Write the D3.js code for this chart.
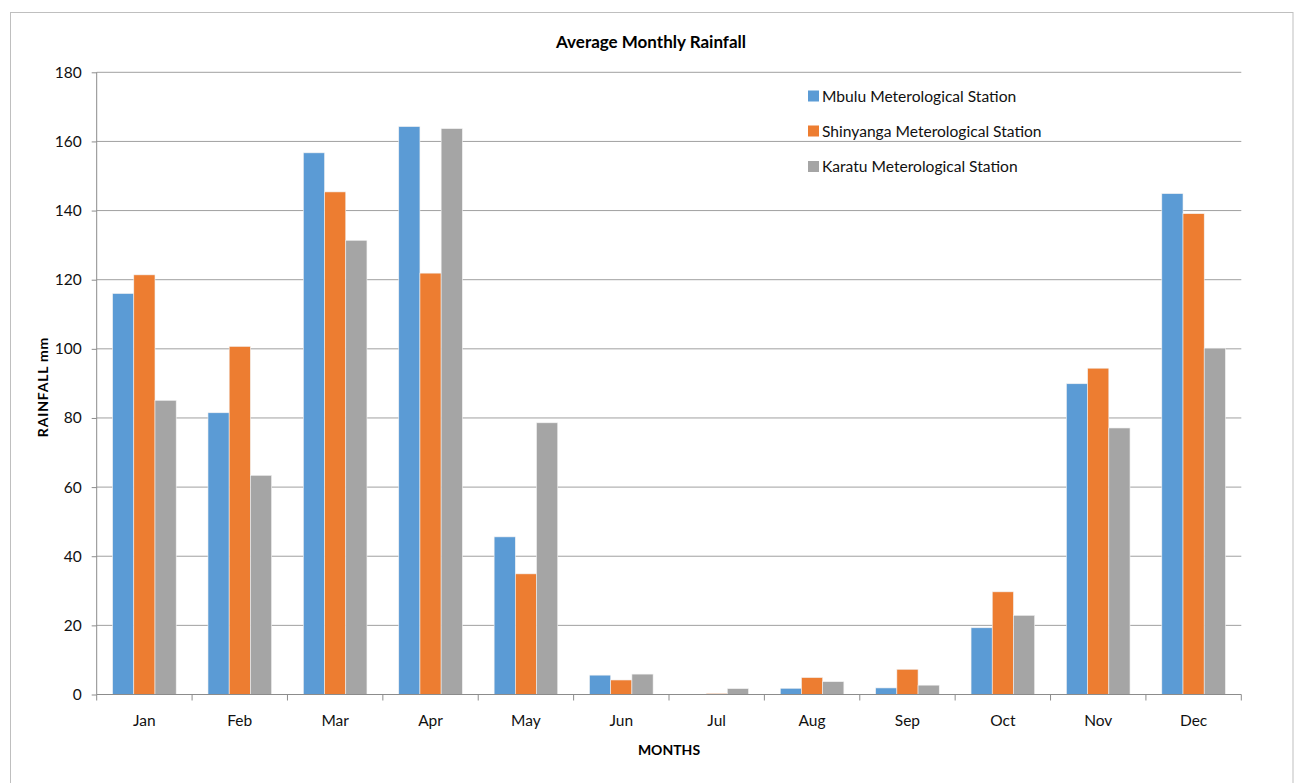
<!DOCTYPE html>
<html>
<head>
<meta charset="utf-8">
<script src="https://cdn.jsdelivr.net/npm/d3@7"></script>
<style>
  html, body { margin: 0; padding: 0; background: #fff; }
  svg { display: block; font-family: Lato, "Open Sans", sans-serif; }
</style>
</head>
<body>
<svg id="chart" width="1297" height="783"></svg>
<script>
const months = ["Jan","Feb","Mar","Apr","May","Jun","Jul","Aug","Sep","Oct","Nov","Dec"];
const seriesNames = ["Mbulu Meterological Station","Shinyanga Meterological Station","Karatu Meterological Station"];
const mbulu     = [116.0, 81.5, 156.7, 164.3, 45.6, 5.6, 0.0, 1.8, 1.9, 19.3, 89.9, 144.9];
const shinyanga = [121.4, 100.7, 145.4, 121.9, 34.9, 4.2, 0.3, 4.9, 7.3, 29.7, 94.4, 139.1];
const karatu    = [85.1, 63.4, 131.4, 163.7, 78.6, 5.9, 1.7, 3.7, 2.7, 22.9, 77.1, 100.2];
const yTicks = [0,20,40,60,80,100,120,140,160,180];
const colors = ["#5B9BD5","#ED7D31","#A5A5A5"];
const seriesValues = [mbulu, shinyanga, karatu];

const svg = d3.select("#chart");
const pLeft = 96.7, pRight = 1241.3, pTop = 72.3, pBottom = 694.5;

// outer border
svg.append("rect").attr("x",10.5).attr("y",12.5).attr("width",1282.5).attr("height",780)
  .attr("fill","none").attr("stroke","#bfbfbf").attr("stroke-width",1);

const x = d3.scaleBand().domain(months).range([pLeft,pRight]).paddingInner(0).paddingOuter(0);
const xs = d3.scaleBand().domain(d3.range(3)).range([0,x.bandwidth()]).paddingInner(0).paddingOuter(0.75);
const y = d3.scaleLinear().domain([0,180]).range([pBottom,pTop]);

// gridlines
svg.append("g").selectAll("line").data(yTicks.filter(d=>d>0)).join("line")
  .attr("x1",pLeft).attr("x2",pRight).attr("y1",d=>y(d)).attr("y2",d=>y(d))
  .attr("stroke","#a0a0a0").attr("stroke-width",1);

// bars
const rows = [];
months.forEach((m,i)=>seriesValues.forEach((vals,s)=>rows.push({m, s, v: vals[i]})));
svg.append("g").selectAll("rect").data(rows).join("rect")
  .attr("x",d=>x(d.m)+xs(d.s)).attr("width",xs.bandwidth())
  .attr("y",d=>y(d.v)).attr("height",d=>y(0)-y(d.v))
  .attr("fill",d=>colors[d.s]).attr("stroke","#f2f2f2").attr("stroke-width",0.6);

// y axis
const yAxis = d3.axisLeft(y).tickValues(yTicks).tickSize(5).tickPadding(10);
const gy = svg.append("g").attr("transform",`translate(${pLeft},0)`).call(yAxis);
gy.select(".domain").attr("stroke","#8c8c8c").attr("d",`M0,${pTop}V${pBottom}`);
gy.selectAll(".tick line").attr("stroke","#8c8c8c");
gy.selectAll(".tick text").attr("font-size","15.5px").attr("fill","#111").attr("font-family","Lato, sans-serif");

// x axis with boundary ticks
const gx = svg.append("g").attr("transform",`translate(0,${pBottom})`);
gx.append("line").attr("x1",pLeft).attr("x2",pRight).attr("stroke","#8c8c8c");
const boundaries = months.map(m=>x(m)).concat([pRight]);
gx.selectAll("line.t").data(boundaries).join("line").attr("class","t")
  .attr("x1",d=>d).attr("x2",d=>d).attr("y1",0).attr("y2",6).attr("stroke","#8c8c8c");
gx.selectAll("text").data(months).join("text")
  .attr("x",d=>x(d)+x.bandwidth()/2).attr("y",31)
  .attr("text-anchor","middle").attr("font-size","15.5px").attr("fill","#111").text(d=>d);

// titles
svg.append("text").attr("x",651).attr("y",48).attr("text-anchor","middle")
  .attr("font-size","17px").attr("font-weight","bold").text("Average Monthly Rainfall");
svg.append("text").attr("x",(pLeft+pRight)/2).attr("y",755).attr("text-anchor","middle")
  .attr("font-size","14px").attr("font-weight","bold").text("MONTHS");
svg.append("text").attr("transform","translate(48,387) rotate(-90)").attr("text-anchor","middle")
  .attr("font-size","14px").attr("font-weight","bold").attr("letter-spacing","0.8px").text("RAINFALL  mm");

// legend
const lg = svg.append("g");
const legendY = [95.5, 130.5, 166];
seriesNames.forEach((n,i)=>{
  lg.append("rect").attr("x",808).attr("y",legendY[i]-5).attr("width",11).attr("height",11).attr("fill",colors[i]);
  lg.append("text").attr("x",822).attr("y",legendY[i]+6).attr("font-size","15.6px").attr("fill","#111").text(n);
});
</script>
</body>
</html>
